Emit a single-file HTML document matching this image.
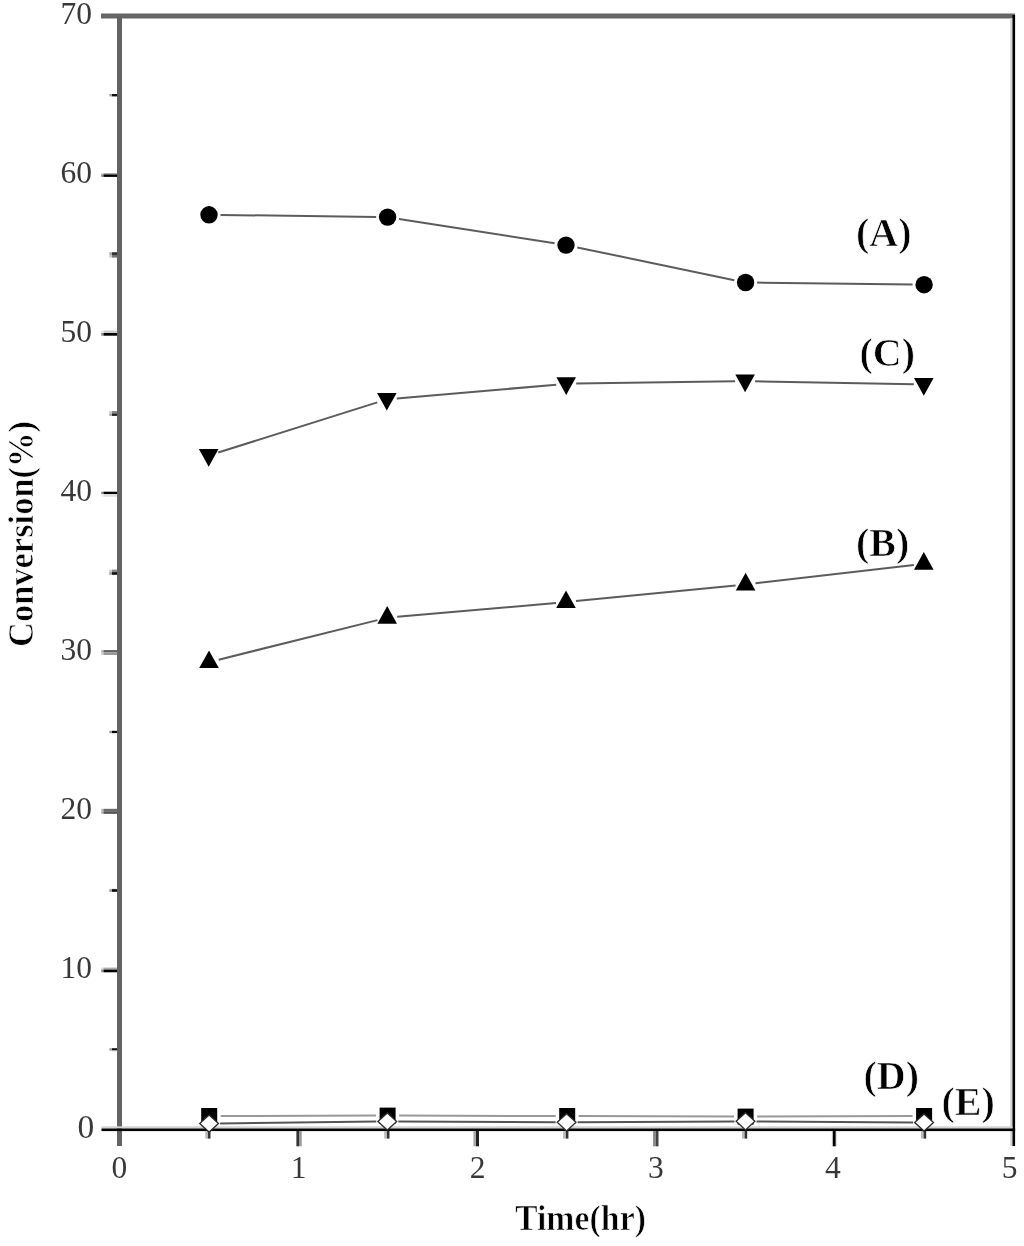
<!DOCTYPE html>
<html><head><meta charset="utf-8"><title>Conversion vs Time</title>
<style>
html,body{margin:0;padding:0;background:#fff;}
body{width:1024px;height:1246px;overflow:hidden;}
svg{display:block;}
.t{font-family:"Liberation Serif","Times New Roman",serif;font-size:31.5px;fill:#383838;}
.b{font-family:"Liberation Serif","Times New Roman",serif;font-weight:bold;fill:#000;stroke:#fff;stroke-width:0.7px;}
</style></head>
<body>
<svg width="1024" height="1246" viewBox="0 0 1024 1246">
<rect width="1024" height="1246" fill="#fff"/>
<rect x="101" y="13.5" width="914" height="5" fill="#666"/>
<rect x="117" y="16" width="5" height="1130" fill="#636363"/>
<rect x="1010.3" y="18" width="2.2" height="1128" fill="#d2d2d2"/>
<rect x="1012.5" y="15" width="2.6" height="1131" fill="#000"/>
<rect x="101.5" y="1126.3" width="911" height="2.2" fill="#d2d2d2"/>
<rect x="101.5" y="1128.5" width="913.6" height="2.6" fill="#000"/>
<rect x="103.5" y="173.0" width="13.6" height="1.4" fill="#aaa"/>
<rect x="101.2" y="173.0" width="2.3" height="1.4" fill="#aaa" opacity="0.45"/>
<rect x="103.5" y="174.4" width="13.6" height="2.5" fill="#000"/>
<rect x="101.2" y="174.4" width="2.3" height="2.5" fill="#000" opacity="0.45"/>
<rect x="103.5" y="330.5" width="13.6" height="2.5" fill="#ccc"/>
<rect x="101.2" y="330.5" width="2.3" height="2.5" fill="#ccc" opacity="0.45"/>
<rect x="103.5" y="333.0" width="13.6" height="2.7" fill="#000"/>
<rect x="101.2" y="333.0" width="2.3" height="2.7" fill="#000" opacity="0.45"/>
<rect x="103.5" y="491.7" width="13.6" height="2.4" fill="#000"/>
<rect x="101.2" y="491.7" width="2.3" height="2.4" fill="#000" opacity="0.45"/>
<rect x="103.5" y="494.1" width="13.6" height="2.6" fill="#ddd"/>
<rect x="101.2" y="494.1" width="2.3" height="2.6" fill="#ddd" opacity="0.45"/>
<rect x="103.5" y="650.1" width="13.6" height="2.4" fill="#5e5e5e"/>
<rect x="101.2" y="650.1" width="2.3" height="2.4" fill="#5e5e5e" opacity="0.45"/>
<rect x="103.5" y="652.5" width="13.6" height="2.5" fill="#999"/>
<rect x="101.2" y="652.5" width="2.3" height="2.5" fill="#999" opacity="0.45"/>
<rect x="103.5" y="808.8" width="13.6" height="2.5" fill="#6a6a6a"/>
<rect x="101.2" y="808.8" width="2.3" height="2.5" fill="#6a6a6a" opacity="0.45"/>
<rect x="103.5" y="811.3" width="13.6" height="2.5" fill="#505050"/>
<rect x="101.2" y="811.3" width="2.3" height="2.5" fill="#505050" opacity="0.45"/>
<rect x="103.5" y="967.6" width="13.6" height="2.0" fill="#aaa"/>
<rect x="101.2" y="967.6" width="2.3" height="2.0" fill="#aaa" opacity="0.45"/>
<rect x="103.5" y="969.6" width="13.6" height="2.7" fill="#000"/>
<rect x="101.2" y="969.6" width="2.3" height="2.7" fill="#000" opacity="0.45"/>
<rect x="112" y="94.0" width="5.1" height="2.4" fill="#111"/>
<rect x="109.3" y="94.0" width="2.7" height="2.4" fill="#111" opacity="0.4"/>
<rect x="112" y="252.2" width="5.1" height="2.8" fill="#333"/>
<rect x="109.3" y="252.2" width="2.7" height="2.8" fill="#333" opacity="0.4"/>
<rect x="112" y="255.0" width="5.1" height="2.6" fill="#777"/>
<rect x="109.3" y="255.0" width="2.7" height="2.6" fill="#777" opacity="0.4"/>
<rect x="112" y="411.0" width="5.1" height="2.4" fill="#888"/>
<rect x="109.3" y="411.0" width="2.7" height="2.4" fill="#888" opacity="0.4"/>
<rect x="112" y="413.4" width="5.1" height="2.5" fill="#222"/>
<rect x="109.3" y="413.4" width="2.7" height="2.5" fill="#222" opacity="0.4"/>
<rect x="112" y="569.6" width="5.1" height="2.5" fill="#888"/>
<rect x="109.3" y="569.6" width="2.7" height="2.5" fill="#888" opacity="0.4"/>
<rect x="112" y="572.1" width="5.1" height="2.7" fill="#111"/>
<rect x="109.3" y="572.1" width="2.7" height="2.7" fill="#111" opacity="0.4"/>
<rect x="112" y="730.8" width="5.1" height="2.4" fill="#000"/>
<rect x="109.3" y="730.8" width="2.7" height="2.4" fill="#000" opacity="0.4"/>
<rect x="112" y="733.2" width="5.1" height="1.5" fill="#eee"/>
<rect x="109.3" y="733.2" width="2.7" height="1.5" fill="#eee" opacity="0.4"/>
<rect x="112" y="888.0" width="5.1" height="1.2" fill="#eee"/>
<rect x="109.3" y="888.0" width="2.7" height="1.2" fill="#eee" opacity="0.4"/>
<rect x="112" y="889.2" width="5.1" height="2.6" fill="#000"/>
<rect x="109.3" y="889.2" width="2.7" height="2.6" fill="#000" opacity="0.4"/>
<rect x="112" y="1048.2" width="5.1" height="2.4" fill="#111"/>
<rect x="109.3" y="1048.2" width="2.7" height="2.4" fill="#111" opacity="0.4"/>
<rect x="112" y="1050.6" width="5.1" height="1.5" fill="#eee"/>
<rect x="109.3" y="1050.6" width="2.7" height="1.5" fill="#eee" opacity="0.4"/>
<rect x="296.4" y="1131" width="2.6" height="15.3" fill="#333"/>
<rect x="299.0" y="1131" width="2.7" height="15.3" fill="#999"/>
<rect x="473.4" y="1131" width="2.6" height="15.3" fill="#aaa"/>
<rect x="476.0" y="1131" width="3.0" height="15.3" fill="#222"/>
<rect x="653.1" y="1131" width="2.8" height="15.3" fill="#888"/>
<rect x="655.9" y="1131" width="2.6" height="15.3" fill="#444"/>
<rect x="831.8" y="1131" width="1.0" height="15.3" fill="#ddd"/>
<rect x="832.8" y="1131" width="3.0" height="15.3" fill="#000"/>
<rect x="835.8" y="1131" width="1.0" height="15.3" fill="#ddd"/>
<rect x="205.3" y="1131" width="2.6" height="7.6" fill="#bbb"/>
<rect x="207.9" y="1131" width="2.6" height="7.6" fill="#333"/>
<rect x="384.2" y="1131" width="2.6" height="7.6" fill="#bbb"/>
<rect x="386.9" y="1131" width="2.6" height="7.6" fill="#333"/>
<rect x="563.1" y="1131" width="2.6" height="7.6" fill="#bbb"/>
<rect x="565.8" y="1131" width="2.6" height="7.6" fill="#333"/>
<rect x="742.0" y="1131" width="2.6" height="7.6" fill="#bbb"/>
<rect x="744.6" y="1131" width="2.6" height="7.6" fill="#333"/>
<rect x="921.0" y="1131" width="2.6" height="7.6" fill="#bbb"/>
<rect x="923.6" y="1131" width="2.6" height="7.6" fill="#333"/>
<text x="92" y="978.2" text-anchor="end" class="t">10</text>
<text x="92" y="819.2" text-anchor="end" class="t">20</text>
<text x="92" y="660.1" text-anchor="end" class="t">30</text>
<text x="92" y="501.0" text-anchor="end" class="t">40</text>
<text x="92" y="341.9" text-anchor="end" class="t">50</text>
<text x="92" y="182.9" text-anchor="end" class="t">60</text>
<text x="92" y="23.8" text-anchor="end" class="t">70</text>
<text x="94.3" y="1137.9" text-anchor="end" class="t" style="font-size:33.5px">0</text>
<text x="119.4" y="1177.6" text-anchor="middle" class="t">0</text>
<text x="298.7" y="1177.6" text-anchor="middle" class="t">1</text>
<text x="477.5" y="1177.6" text-anchor="middle" class="t">2</text>
<text x="655.8" y="1177.6" text-anchor="middle" class="t">3</text>
<text x="832.9" y="1177.6" text-anchor="middle" class="t">4</text>
<text x="1009.5" y="1177.6" text-anchor="middle" class="t">5</text>
<text x="515" y="1230" class="b" font-size="35" textLength="131" lengthAdjust="spacingAndGlyphs">Time(hr)</text>
<text transform="translate(32.5,647) rotate(-90)" x="0" y="0" class="b" font-size="35.5" textLength="226" lengthAdjust="spacingAndGlyphs">Conversion(%)</text>
<line x1="220.5" y1="214.9" x2="376.1" y2="217.0" stroke="#5c5c5c" stroke-width="2"/>
<line x1="399.0" y1="218.9" x2="554.6" y2="243.3" stroke="#5c5c5c" stroke-width="2"/>
<line x1="577.3" y1="247.4" x2="734.3" y2="280.2" stroke="#5c5c5c" stroke-width="2"/>
<line x1="757.1" y1="282.6" x2="912.6" y2="284.6" stroke="#5c5c5c" stroke-width="2"/>
<line x1="218.2" y1="452.5" x2="377.3" y2="402.4" stroke="#5c5c5c" stroke-width="2"/>
<line x1="396.8" y1="398.5" x2="556.2" y2="384.7" stroke="#5c5c5c" stroke-width="2"/>
<line x1="576.2" y1="383.6" x2="735.1" y2="381.3" stroke="#5c5c5c" stroke-width="2"/>
<line x1="755.1" y1="381.3" x2="913.8" y2="384.3" stroke="#5c5c5c" stroke-width="2"/>
<line x1="218.7" y1="659.7" x2="377.5" y2="620.1" stroke="#5c5c5c" stroke-width="2"/>
<line x1="397.2" y1="616.8" x2="556.0" y2="603.0" stroke="#5c5c5c" stroke-width="2"/>
<line x1="576.0" y1="601.1" x2="735.6" y2="585.4" stroke="#5c5c5c" stroke-width="2"/>
<line x1="755.5" y1="583.3" x2="913.9" y2="564.9" stroke="#5c5c5c" stroke-width="2"/>
<line x1="220.7" y1="1116.0" x2="376.1" y2="1115.6" stroke="#999" stroke-width="2"/>
<line x1="399.1" y1="1115.6" x2="555.7" y2="1116.0" stroke="#999" stroke-width="2"/>
<line x1="578.7" y1="1116.0" x2="734.1" y2="1116.6" stroke="#999" stroke-width="2"/>
<line x1="757.1" y1="1116.6" x2="912.6" y2="1116.0" stroke="#999" stroke-width="2"/>
<line x1="220.1" y1="1123.4" x2="376.3" y2="1121.6" stroke="#555" stroke-width="2"/>
<line x1="398.3" y1="1121.5" x2="555.6" y2="1122.3" stroke="#555" stroke-width="2"/>
<line x1="577.6" y1="1122.2" x2="734.5" y2="1121.4" stroke="#555" stroke-width="2"/>
<line x1="756.5" y1="1121.4" x2="913.1" y2="1122.4" stroke="#555" stroke-width="2"/>
<circle cx="209.0" cy="214.8" r="8.7" fill="#000"/>
<circle cx="387.6" cy="217.1" r="8.7" fill="#000"/>
<circle cx="566.0" cy="245.1" r="8.7" fill="#000"/>
<circle cx="745.6" cy="282.5" r="8.7" fill="#000"/>
<circle cx="924.1" cy="284.7" r="8.7" fill="#000"/>
<polygon points="198.9,449.0 218.5,449.0 208.7,466.7" fill="#000"/>
<polygon points="377.0,392.9 396.6,392.9 386.8,410.6" fill="#000"/>
<polygon points="556.4,377.3 576.0,377.3 566.2,395.0" fill="#000"/>
<polygon points="735.3,374.6 754.9,374.6 745.1,392.3" fill="#000"/>
<polygon points="914.0,378.0 933.6,378.0 923.8,395.7" fill="#000"/>
<polygon points="199.2,668.1 218.8,668.1 209.0,650.4" fill="#000"/>
<polygon points="377.4,623.7 397.0,623.7 387.2,606.0" fill="#000"/>
<polygon points="556.2,608.1 575.8,608.1 566.0,590.4" fill="#000"/>
<polygon points="735.8,590.4 755.4,590.4 745.6,572.7" fill="#000"/>
<polygon points="914.0,569.8 933.6,569.8 923.8,552.1" fill="#000"/>
<rect x="201.2" y="1108.0" width="16.0" height="16.0" fill="#000"/>
<rect x="379.6" y="1107.6" width="16.0" height="16.0" fill="#000"/>
<rect x="559.2" y="1108.0" width="16.0" height="16.0" fill="#000"/>
<rect x="737.6" y="1108.6" width="16.0" height="16.0" fill="#000"/>
<rect x="916.1" y="1108.0" width="16.0" height="16.0" fill="#000"/>
<polygon points="209.1,1114.9 218.5,1123.5 209.1,1132.1 199.7,1123.5" fill="#fff" stroke="#2a2a2a" stroke-width="1.3"/>
<polygon points="387.3,1112.9 396.7,1121.5 387.3,1130.1 377.9,1121.5" fill="#fff" stroke="#2a2a2a" stroke-width="1.3"/>
<polygon points="566.6,1113.7 576.0,1122.3 566.6,1130.9 557.2,1122.3" fill="#fff" stroke="#2a2a2a" stroke-width="1.3"/>
<polygon points="745.5,1112.7 754.9,1121.3 745.5,1129.9 736.1,1121.3" fill="#fff" stroke="#2a2a2a" stroke-width="1.3"/>
<polygon points="924.1,1113.9 933.5,1122.5 924.1,1131.1 914.7,1122.5" fill="#fff" stroke="#2a2a2a" stroke-width="1.3"/>
<text x="856" y="246.3" class="b" font-size="40">(A)</text>
<text x="859.5" y="366" class="b" font-size="40">(C)</text>
<text x="856" y="555.7" class="b" font-size="40">(B)</text>
<text x="863.5" y="1089" class="b" font-size="40">(D)</text>
<text x="941.5" y="1114.7" class="b" font-size="40">(E)</text>
</svg>
</body></html>
